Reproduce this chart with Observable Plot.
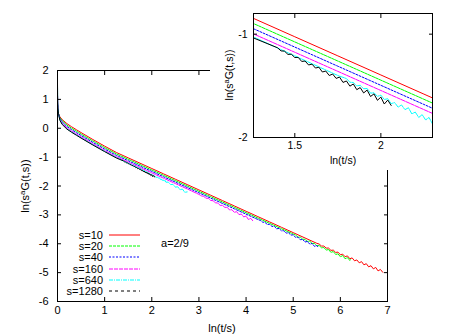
<!DOCTYPE html>
<html><head><meta charset="utf-8">
<script src="https://cdn.jsdelivr.net/npm/d3@7"></script>
<script src="https://cdn.jsdelivr.net/npm/@observablehq/plot@0.6"></script>
<style>
body{margin:0;background:#fff}
#wrap{position:relative;width:450px;height:336px;overflow:hidden;background:#fff}
#wrap svg{display:block}
#inset{position:absolute;left:210px;top:0}
</style></head><body><div id="wrap"></div>
<script>
const seriesNames = ["s=10","s=20","s=40","s=160","s=640","s=1280"];
const colors = ["#ff0000","#00ff00","#0000ff","#ff00ff","#00ffff","#000000"];
const lineDashes = [null,"3,1","2,1.5","4,1","4,1,1,1",null];
const legendDashes = [null,"3,1","2,1.5","4,1","4,1,1,1","3,3"];
const xTicks = [0,1,2,3,4,5,6,7];
const yTicks = [-6,-5,-4,-3,-2,-1,0,1,2];
const insetXTicks = [1.5,2];
const insetYTicks = [-2,-1];
const annotation = "a=2/9";

const s10 = [[0.02,0.50],[0.05,0.40],[0.1,0.30],[0.2,0.16],[0.3,0.05],[0.4,-0.05],[0.5,-0.15],[0.75,-0.39],[1.0,-0.62],[1.25,-0.84],[1.5,-1.025],[1.75,-1.21],[2.0,-1.395],[2.25,-1.58],[2.5,-1.765],[2.75,-1.95],[3.0,-2.135],[3.25,-2.32],[3.5,-2.505],[3.75,-2.69],[4.0,-2.875],[4.25,-3.06],[4.5,-3.245],[4.75,-3.43],[5.0,-3.615],[5.25,-3.80],[5.5,-3.985],
[5.55,-4.01],[5.6,-4.08],[5.65,-4.08],[5.7,-4.15],[5.75,-4.15],[5.8,-4.23],[5.85,-4.22],[5.9,-4.30],[5.95,-4.29],[6.0,-4.38],[6.05,-4.36],[6.1,-4.45],[6.15,-4.42],[6.2,-4.52],[6.25,-4.49],[6.3,-4.59],[6.35,-4.56],[6.4,-4.66],[6.45,-4.62],[6.5,-4.73],[6.55,-4.69],[6.6,-4.80],[6.65,-4.76],[6.7,-4.87],[6.75,-4.82],[6.8,-4.94],[6.85,-4.89],[6.9,-4.99]];

const s20 = [[0.01,0.62],[0.02,0.50],[0.05,0.37],[0.1,0.26],[0.2,0.11],[0.3,0.0],[0.4,-0.10],[0.5,-0.20],[0.75,-0.44],[1.0,-0.67],[1.25,-0.89],[1.5,-1.075],[1.75,-1.26],[2.0,-1.445],[2.25,-1.63],[2.5,-1.815],[2.75,-2.0],[3.0,-2.185],[3.25,-2.37],[3.5,-2.555],[3.75,-2.74],[4.0,-2.925],[4.25,-3.11],[4.5,-3.295],[4.75,-3.48],[5.0,-3.665],
[5.05,-3.70],[5.1,-3.77],[5.15,-3.77],[5.2,-3.84],[5.25,-3.85],[5.3,-3.92],[5.35,-3.91],[5.4,-3.99],[5.45,-3.99],[5.5,-4.07],[5.55,-4.06],[5.6,-4.14],[5.65,-4.13],[5.7,-4.22],[5.75,-4.20],[5.8,-4.30],[5.85,-4.27],[5.9,-4.37],[5.95,-4.35],[6.0,-4.45],[6.05,-4.41],[6.1,-4.52],[6.15,-4.48],[6.2,-4.58],[6.21,-4.55]];

const s40 = [[0.005,0.80],[0.01,0.65],[0.02,0.51],[0.05,0.34],[0.1,0.22],[0.2,0.06],[0.3,-0.05],[0.4,-0.15],[0.5,-0.25],[0.75,-0.49],[1.0,-0.72],[1.25,-0.94],[1.5,-1.125],[1.75,-1.31],[2.0,-1.495],[2.25,-1.68],[2.5,-1.865],[2.75,-2.05],[3.0,-2.235],[3.25,-2.42],[3.5,-2.605],[3.75,-2.79],[4.0,-2.975],[4.25,-3.16],
[4.3,-3.19],[4.35,-3.25],[4.4,-3.26],[4.45,-3.33],[4.5,-3.33],[4.55,-3.40],[4.6,-3.40],[4.65,-3.48],[4.7,-3.47],[4.75,-3.55],[4.8,-3.55],[4.85,-3.63],[4.9,-3.62],[4.95,-3.70],[5.0,-3.69],[5.05,-3.78],[5.1,-3.77],[5.15,-3.86],[5.2,-3.85],[5.25,-3.94],[5.3,-3.92],[5.35,-4.01],[5.4,-3.99],[5.45,-4.09],[5.5,-4.06],[5.52,-4.10]];

const s160 = [[0.002,1.10],[0.005,0.85],[0.01,0.68],[0.02,0.52],[0.05,0.31],[0.1,0.17],[0.2,0.01],[0.3,-0.10],[0.4,-0.20],[0.5,-0.30],[0.75,-0.54],[1.0,-0.77],[1.25,-0.99],[1.5,-1.175],[1.75,-1.36],[2.0,-1.545],[2.25,-1.73],[2.5,-1.915],[2.75,-2.10],[3.0,-2.29],
[3.05,-2.34],[3.1,-2.36],[3.15,-2.42],[3.2,-2.43],[3.25,-2.50],[3.3,-2.51],[3.35,-2.58],[3.4,-2.59],[3.45,-2.67],[3.5,-2.67],[3.55,-2.74],[3.6,-2.74],[3.65,-2.83],[3.7,-2.82],[3.75,-2.91],[3.8,-2.89],[3.85,-2.99],[3.9,-2.97],[3.95,-3.07],[4.0,-3.04],[4.05,-3.16],[4.1,-3.12],[4.14,-3.20]];

const s640 = [[0.001,1.40],[0.003,1.05],[0.006,0.85],[0.01,0.70],[0.02,0.52],[0.05,0.29],[0.1,0.14],[0.2,-0.02],[0.3,-0.13],[0.4,-0.23],[0.5,-0.33],[0.75,-0.57],[1.0,-0.80],[1.25,-1.02],[1.5,-1.21],[1.75,-1.40],
[1.80,-1.430],[1.82,-1.465],[1.84,-1.468],[1.86,-1.501],[1.88,-1.495],[1.90,-1.528],[1.92,-1.526],[1.94,-1.571],[1.96,-1.567],[1.98,-1.602],[2.00,-1.590],[2.02,-1.632],[2.04,-1.625],[2.06,-1.672],[2.08,-1.662],[2.10,-1.706],[2.12,-1.685],[2.14,-1.731],[2.16,-1.712],[2.18,-1.771],[2.20,-1.754],[2.22,-1.806],[2.24,-1.779],[2.26,-1.830],[2.28,-1.806],[2.30,-1.869],
[2.35,-1.864],[2.4,-1.951],[2.45,-1.943],[2.5,-2.04],[2.55,-2.027],[2.6,-2.129],[2.65,-2.106],[2.7,-2.218],[2.75,-2.205]];

const s1280 = [[0.0005,1.50],[0.002,1.15],[0.005,0.90],[0.01,0.70],[0.02,0.52],[0.05,0.28],[0.1,0.13],[0.2,-0.03],[0.3,-0.14],[0.4,-0.24],[0.5,-0.34],[0.75,-0.58],[1.0,-0.81],[1.25,-1.03],
[1.40,-1.132],[1.42,-1.162],[1.44,-1.164],[1.46,-1.196],[1.48,-1.194],[1.50,-1.226],[1.52,-1.225],[1.54,-1.264],[1.56,-1.260],[1.58,-1.298],[1.60,-1.290],[1.62,-1.328],[1.64,-1.320],[1.66,-1.366],[1.68,-1.357],[1.70,-1.400],[1.72,-1.386],[1.74,-1.428],[1.76,-1.415],[1.78,-1.467],[1.80,-1.453],[1.82,-1.503],[1.84,-1.482],[1.86,-1.537],[1.88,-1.517],[1.90,-1.569],[1.92,-1.541],[1.94,-1.603],[1.96,-1.578],[1.98,-1.640],[2.00,-1.609],[2.02,-1.676],[2.04,-1.638],[2.06,-1.690]];

const allSeries = [s10,s20,s40,s160,s640,s1280];
const rows = allSeries.flatMap((arr,i) => arr.map(([x,y]) => ({x, y, s: seriesNames[i]})));

const font = '"Liberation Sans", Arial, Helvetica, sans-serif';
const fmt = d => String(d);

function lineMarks(clip) {
  return seriesNames.map((name,i) => Plot.line(rows.filter(r => r.s === name), {
    x: "x", y: "y", stroke: colors[i], strokeWidth: 1,
    strokeDasharray: lineDashes[i] || undefined, clip
  }));
}

const main = Plot.plot({
  width: 450, height: 336,
  marginLeft: 57, marginRight: 63, marginTop: 70, marginBottom: 35,
  x: {domain: [0,7]}, y: {domain: [-6,2]},
  style: {fontFamily: font, fontSize: "11px", background: "white", color: "black"},
  marks: [
    ...lineMarks(false),
    Plot.frame({stroke: "black"}),
    Plot.axisX({ticks: xTicks, anchor: "bottom", tickSize: -4, tickPadding: 9, tickFormat: fmt, label: null}),
    Plot.axisX({ticks: xTicks, anchor: "top", tickSize: -4, tickFormat: () => "", label: null}),
    Plot.axisY({ticks: yTicks, anchor: "left", tickSize: -4, tickPadding: 13, tickFormat: fmt, label: null}),
    Plot.axisY({ticks: yTicks, anchor: "right", tickSize: -4, tickFormat: () => "", label: null})
  ]
});

const inset = Plot.plot({
  width: 240, height: 170,
  marginLeft: 43, marginRight: 18, marginTop: 13, marginBottom: 33,
  x: {domain: [1.26, 2.3]}, y: {domain: [-2, -0.8]},
  style: {fontFamily: font, fontSize: "10.5px", background: "white", color: "black"},
  marks: [
    ...lineMarks(true),
    Plot.frame({stroke: "black"}),
    Plot.axisX({ticks: insetXTicks, anchor: "bottom", tickSize: -4, tickPadding: 8, tickFormat: fmt, label: null}),
    Plot.axisX({ticks: insetXTicks, anchor: "top", tickSize: -4, tickFormat: () => "", label: null}),
    Plot.axisY({ticks: insetYTicks, anchor: "left", tickSize: -4, tickPadding: 10, tickFormat: fmt, label: null}),
    Plot.axisY({ticks: insetYTicks, anchor: "right", tickSize: -4, tickFormat: () => "", label: null})
  ]
});
inset.id = "inset";

const wrap = document.getElementById("wrap");
wrap.appendChild(main);
wrap.appendChild(inset);

function yLabel(svg, cx, cy, size) {
  const t = d3.select(svg).append("text")
    .attr("transform", `translate(${cx},${cy}) rotate(-90)`)
    .attr("text-anchor", "middle").attr("font-family", font).attr("font-size", size).attr("fill", "black");
  t.append("tspan").text("ln(s");
  t.append("tspan").attr("font-size", size * 0.72).attr("dy", -size * 0.4).text("a");
  t.append("tspan").attr("dy", size * 0.4).text("G(t,s))");
}
function xLabel(svg, cx, y, size) {
  d3.select(svg).append("text").attr("x", cx).attr("y", y).attr("text-anchor", "middle")
    .attr("font-family", font).attr("font-size", size).attr("fill", "black").text("ln(t/s)");
}
yLabel(main, 29, 186, 11);
xLabel(main, 222, 332, 11);
yLabel(inset, 23, 75, 10.5);
xLabel(inset, 133, 164, 10.5);

// legend
const lg = d3.select(main).append("g").attr("font-family", font).attr("font-size", 11);
seriesNames.forEach((name, i) => {
  const cy = Math.round(235 + i * 11.2);
  lg.append("text").attr("x", 103).attr("y", cy + 4).attr("text-anchor", "end").attr("fill", "black").text(name);
  lg.append("line").attr("x1", 109).attr("x2", 140).attr("y1", cy).attr("y2", cy)
    .attr("stroke", colors[i]).attr("stroke-width", 1).attr("stroke-dasharray", legendDashes[i]);
});
d3.select(main).append("text").attr("x", 175).attr("y", 247).attr("font-family", font)
  .attr("font-size", 11).attr("fill", "black").text(annotation);
</script></body></html>
